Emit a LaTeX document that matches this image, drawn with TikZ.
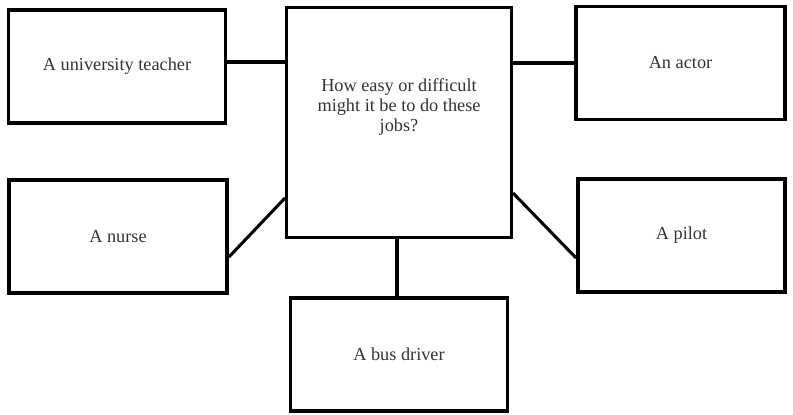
\documentclass[tikz,border=0pt]{standalone}
\usepackage{fontspec}
\setmainfont{Liberation Serif}
\usetikzlibrary{calc}

\begin{document}
\begin{tikzpicture}[
  x=0.03cm, y=-0.03cm,
  every node/.style={font=\fontsize{15.6}{17}\selectfont, text=black!80},
  job/.style={draw=black, line width=2.95pt, minimum width=6.5cm, minimum height=3.38cm, align=center},
  link/.style={draw=black, line width=2.6pt}
]
  \useasboundingbox (0,0) rectangle (793,414);
  \node[job, minimum width=6.735cm, minimum height=6.885cm,
    label={[align=center, yshift=0.465cm, text=black!80]center:How easy or difficult\\might it be to do these\\jobs?}] (Q) at (399,122.5) {};
  \node[job] (Teacher) at (117,66.5) {A university teacher};
  \node[job, minimum width=6.27cm, minimum height=3.375cm] (Actor) at (680.5,63) {An actor};
  \node[job, minimum width=6.55cm] (Nurse) at (118,236.5) {A nurse};
  \node[job, minimum width=6.22cm, minimum height=3.4cm] (Pilot) at (681.5,235.5) {A pilot};
  \node[job, minimum height=3.4cm] (Bus) at (399,354.5) {A bus driver};
  % links to the question
  \coordinate (TeacherEnd) at ($(Teacher.east)+(0,-4.5)$);
  \draw[link] (TeacherEnd) -- (TeacherEnd -| Q.west);
  \draw[link] (Actor.west -| Q.east) -- (Actor.west);
  \draw[link] ($(Nurse.east)+(0,20.5)$) -- ($(Q.west)+(0,75.5)$);
  \draw[link] ($(Q.east)+(0,70.5)$) -- ($(Pilot.west)+(0,22.5)$);
  \draw[link] ($(Q.south)+(-2,0)$) -- ($(Bus.north)+(-2,0)$);
\end{tikzpicture}
\end{document}
